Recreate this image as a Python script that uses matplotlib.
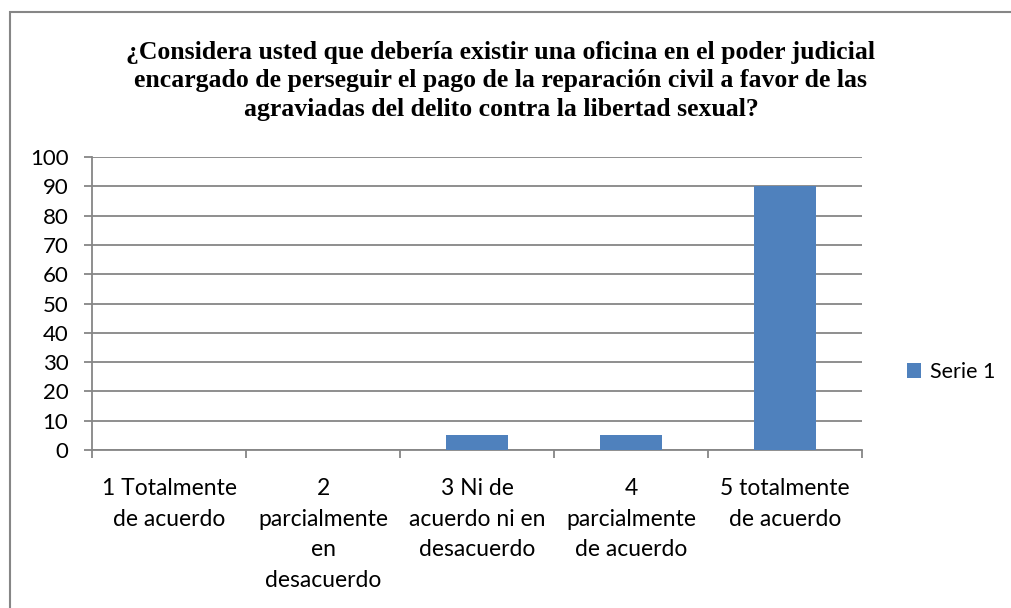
import matplotlib
matplotlib.use("Agg")
import matplotlib.pyplot as plt
from matplotlib.patches import Rectangle
from matplotlib.transforms import Bbox, TransformedBbox

categories = ["1 Totalmente\nde acuerdo",
              "2\nparcialmente\nen\ndesacuerdo",
              "3 Ni de\nacuerdo ni en\ndesacuerdo",
              "4\nparcialmente\nde acuerdo",
              "5 totalmente\nde acuerdo"]
values = [0, 0, 5, 5, 90]
series_name = "Serie 1"
title = ("¿Considera usted que debería existir una oficina en el poder judicial\n"
         "encargado de perseguir el pago de la reparación civil a favor de las\n"
         "agraviadas del delito contra la libertad sexual?")

W, H = 1012, 608
grey = "#868686"
blue = "#4f81bd"
plt.rcParams["font.family"] = ["Lato", "DejaVu Sans"]

fig = plt.figure(figsize=(W / 100, H / 100), dpi=100)
fig.patches.append(Rectangle((10 / W, -0.1), 1.2, 1 - 12 / H + 0.1,
                             transform=fig.transFigure, fill=False,
                             edgecolor=grey, linewidth=1.5))

ax = fig.add_axes([92 / W, 1 - 450 / H, 770 / W, 293 / H])
x = list(range(len(categories)))
ax.bar(x, values, width=0.4, color=blue, zorder=3, label=series_name)
ax.set_xlim(-0.5, len(categories) - 0.5)
ax.set_ylim(0, 100)
ax.set_yticks(range(0, 101, 10))
ax.grid(axis="y", color=grey, linewidth=1.3, zorder=0)
for s in ["top", "right"]:
    ax.spines[s].set_visible(False)
for s in ["left", "bottom"]:
    ax.spines[s].set_color(grey)
    ax.spines[s].set_linewidth(1.3)
ax.tick_params(axis="y", length=6, color=grey, width=1.3, labelsize=16, pad=11)
ax.set_xticks(x)
ax.set_xticklabels(categories, fontsize=16.5, linespacing=1.58)
ax.tick_params(axis="x", length=0, pad=20)
ax.set_xticks([i - 0.5 for i in range(len(categories) + 1)], minor=True)
ax.tick_params(axis="x", which="minor", length=6, color=grey, width=1.3)

# title, its last line cut off at the bottom as in the original
t = fig.text(501 / W, 1 - 81 / H, title, ha="center", va="center",
             family="Liberation Serif", fontweight="bold", fontsize=18.5,
             linespacing=1.33)
t.set_clip_box(TransformedBbox(Bbox([[0, 1 - 122 / H], [1, 1]]),
                               fig.transFigure))
t.set_clip_on(True)

fig.legend(loc="center left", bbox_to_anchor=(888 / W, 1 - 372 / H),
           frameon=False, fontsize=15.5, handlelength=0.65, handleheight=0.65,
           handletextpad=0.4)

fig.savefig("out.png", dpi=100)
